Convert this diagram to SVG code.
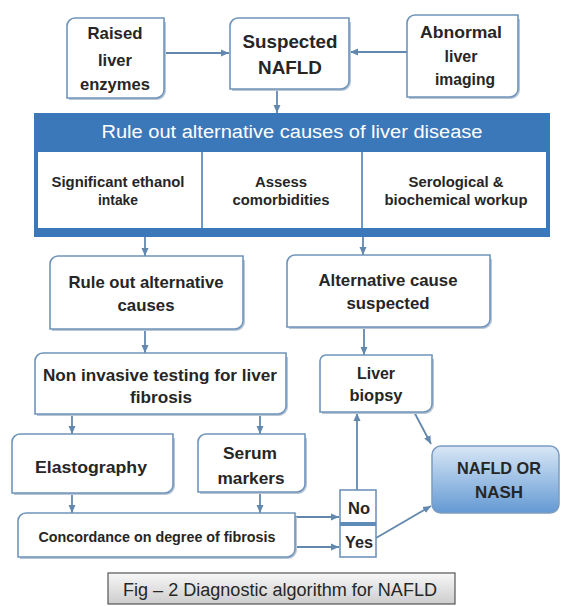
<svg xmlns="http://www.w3.org/2000/svg" width="563" height="606" viewBox="0 0 563 606">
<defs>
<style>
.box{fill:#fff;stroke:#6f94bb;stroke-width:1.6}
.sh{fill:none;stroke:#b9c6d4;stroke-width:2}
.t{font-family:"Liberation Sans",Arial,sans-serif;font-weight:bold;fill:#262626;text-anchor:middle}
.w{font-family:"Liberation Sans",Arial,sans-serif;font-weight:normal;fill:#fff;text-anchor:middle}
.c{fill:none;stroke:#6388ae;stroke-width:1.8}
</style>
<marker id="ah" markerUnits="userSpaceOnUse" markerWidth="9" markerHeight="8" refX="8" refY="4" orient="auto">
<path d="M0,0.5 L8,4 L0,7.5 Z" fill="#6388ae"/>
</marker>
<linearGradient id="gN" x1="0" y1="0" x2="0" y2="1">
<stop offset="0" stop-color="#d8e7f6"/>
<stop offset="1" stop-color="#6399d3"/>
</linearGradient>
<linearGradient id="gC" x1="0" y1="0" x2="0" y2="1">
<stop offset="0" stop-color="#f7f7f7"/>
<stop offset="1" stop-color="#cdcdcd"/>
</linearGradient>
</defs>
<rect width="563" height="606" fill="#fff"/>

<g id="connectors">
<line class="c" x1="164" y1="53" x2="229" y2="53" marker-end="url(#ah)"/>
<line class="c" x1="407" y1="52" x2="350" y2="52" marker-end="url(#ah)"/>
<line class="c" x1="277" y1="89" x2="277" y2="113" marker-end="url(#ah)"/>
<line class="c" x1="145" y1="237" x2="145" y2="256" marker-end="url(#ah)"/>
<line class="c" x1="363" y1="237" x2="363" y2="255" marker-end="url(#ah)"/>
<line class="c" x1="145" y1="329" x2="145" y2="353" marker-end="url(#ah)"/>
<line class="c" x1="364" y1="327" x2="364" y2="355" marker-end="url(#ah)"/>
<line class="c" x1="72" y1="414" x2="72" y2="434" marker-end="url(#ah)"/>
<line class="c" x1="260" y1="414" x2="260" y2="434" marker-end="url(#ah)"/>
<line class="c" x1="72" y1="493" x2="72" y2="513" marker-end="url(#ah)"/>
<line class="c" x1="260" y1="492" x2="260" y2="513" marker-end="url(#ah)"/>
<line class="c" x1="295" y1="517" x2="339" y2="517" marker-end="url(#ah)"/>
<line class="c" x1="295" y1="547" x2="339" y2="547" marker-end="url(#ah)"/>
<line class="c" x1="357" y1="490" x2="357" y2="413" marker-end="url(#ah)"/>
<line class="c" x1="412" y1="408" x2="431" y2="444" marker-end="url(#ah)"/>
<line class="c" x1="376" y1="538" x2="431" y2="506" marker-end="url(#ah)"/>
</g>

<g id="raised">
<path class="sh" d="M69,99 H157 A8,8 0 0 0 165,91 V22"/>
<path class="box" d="M67,26 A8,8 0 0 1 75,18 H164 V90 A8,8 0 0 1 156,98 H67 Z"/>
<text class="t" font-size="17" x="115" y="39" textLength="55" lengthAdjust="spacingAndGlyphs">Raised</text>
<text class="t" font-size="17" x="115" y="66" textLength="34" lengthAdjust="spacingAndGlyphs">liver</text>
<text class="t" font-size="17" x="115" y="90" textLength="70" lengthAdjust="spacingAndGlyphs">enzymes</text>
</g>

<g id="suspected">
<path class="sh" d="M232,90 H342 A8,8 0 0 0 350,82 V22"/>
<path class="box" d="M230,26 A8,8 0 0 1 238,18 H349 V81 A8,8 0 0 1 341,89 H230 Z"/>
<text class="t" font-size="18" x="290" y="48" textLength="95" lengthAdjust="spacingAndGlyphs">Suspected</text>
<text class="t" font-size="18" x="290" y="74" textLength="64" lengthAdjust="spacingAndGlyphs">NAFLD</text>
</g>

<g id="abnormal">
<path class="sh" d="M409,98 H511 A8,8 0 0 0 519,90 V19"/>
<path class="box" d="M407,23 A8,8 0 0 1 415,15 H518 V89 A8,8 0 0 1 510,97 H407 Z"/>
<text class="t" font-size="17" x="461" y="38" textLength="82" lengthAdjust="spacingAndGlyphs">Abnormal</text>
<text class="t" font-size="17" x="461" y="62" textLength="33" lengthAdjust="spacingAndGlyphs">liver</text>
<text class="t" font-size="17" x="465" y="85" textLength="60" lengthAdjust="spacingAndGlyphs">imaging</text>
</g>

<g id="banner">
<rect x="34" y="113" width="516" height="124" fill="#3b78b9"/>
<rect x="38" y="152" width="508" height="76" fill="#fff"/>
<line x1="202" y1="152" x2="202" y2="228" stroke="#3b78b9" stroke-width="1.5"/>
<line x1="362" y1="152" x2="362" y2="228" stroke="#3b78b9" stroke-width="1.5"/>
<text class="w" font-size="18" x="292" y="138" textLength="381" lengthAdjust="spacingAndGlyphs">Rule out alternative causes of liver disease</text>
<text class="t" font-size="14" x="118" y="187" textLength="133" lengthAdjust="spacingAndGlyphs">Significant ethanol</text>
<text class="t" font-size="14" x="118" y="205" textLength="40" lengthAdjust="spacingAndGlyphs">intake</text>
<text class="t" font-size="14" x="281" y="187" textLength="52" lengthAdjust="spacingAndGlyphs">Assess</text>
<text class="t" font-size="14" x="281" y="205" textLength="97" lengthAdjust="spacingAndGlyphs">comorbidities</text>
<text class="t" font-size="14" x="456" y="187" textLength="95" lengthAdjust="spacingAndGlyphs">Serological &amp;</text>
<text class="t" font-size="14" x="456" y="205" textLength="143" lengthAdjust="spacingAndGlyphs">biochemical workup</text>
</g>

<g id="ruleout">
<path class="sh" d="M52,330 H236 A8,8 0 0 0 244,322 V260"/>
<path class="box" d="M50,264 A8,8 0 0 1 58,256 H243 V321 A8,8 0 0 1 235,329 H50 Z"/>
<text class="t" font-size="17" x="146" y="288" textLength="155" lengthAdjust="spacingAndGlyphs">Rule out alternative</text>
<text class="t" font-size="17" x="146" y="311" textLength="57" lengthAdjust="spacingAndGlyphs">causes</text>
</g>

<g id="altcause">
<path class="sh" d="M289,328 H483 A8,8 0 0 0 491,320 V259"/>
<path class="box" d="M287,263 A8,8 0 0 1 295,255 H490 V319 A8,8 0 0 1 482,327 H287 Z"/>
<text class="t" font-size="17" x="388" y="286" textLength="139" lengthAdjust="spacingAndGlyphs">Alternative cause</text>
<text class="t" font-size="17" x="388" y="309" textLength="83" lengthAdjust="spacingAndGlyphs">suspected</text>
</g>

<g id="noninvasive">
<path class="sh" d="M37,415 H279 A8,8 0 0 0 287,407 V357"/>
<path class="box" d="M35,361 A8,8 0 0 1 43,353 H286 V406 A8,8 0 0 1 278,414 H35 Z"/>
<text class="t" font-size="17" x="160" y="381" textLength="234" lengthAdjust="spacingAndGlyphs">Non invasive testing for liver</text>
<text class="t" font-size="17" x="161" y="403" textLength="62" lengthAdjust="spacingAndGlyphs">fibrosis</text>
</g>

<g id="biopsy">
<path class="sh" d="M322,413 H425 A8,8 0 0 0 433,405 V359"/>
<path class="box" d="M320,361 A6,6 0 0 1 326,355 H432 V404 A8,8 0 0 1 424,412 H320 Z"/>
<text class="t" font-size="17" x="376" y="379" textLength="38" lengthAdjust="spacingAndGlyphs">Liver</text>
<text class="t" font-size="17" x="376" y="401" textLength="53" lengthAdjust="spacingAndGlyphs">biopsy</text>
</g>

<g id="elastography">
<path class="sh" d="M14,494 H166 A8,8 0 0 0 174,486 V438"/>
<path class="box" d="M12,442 A8,8 0 0 1 20,434 H173 V485 A8,8 0 0 1 165,493 H12 Z"/>
<text class="t" font-size="17" x="91" y="473" textLength="112" lengthAdjust="spacingAndGlyphs">Elastography</text>
</g>

<g id="serum">
<path class="sh" d="M200,493 H298 A8,8 0 0 0 306,485 V438"/>
<path class="box" d="M198,442 A8,8 0 0 1 206,434 H305 V484 A8,8 0 0 1 297,492 H198 Z"/>
<text class="t" font-size="17" x="250" y="459" textLength="54" lengthAdjust="spacingAndGlyphs">Serum</text>
<text class="t" font-size="17" x="251" y="484" textLength="67" lengthAdjust="spacingAndGlyphs">markers</text>
</g>

<g id="concordance">
<path class="sh" d="M20,558 H288 A8,8 0 0 0 296,550 V517"/>
<path class="box" d="M18,521 A8,8 0 0 1 26,513 H295 V549 A8,8 0 0 1 287,557 H18 Z"/>
<text class="t" font-size="15" x="157" y="542" textLength="237" lengthAdjust="spacingAndGlyphs">Concordance on degree of fibrosis</text>
</g>

<g id="no">
<rect class="box" x="340" y="490" width="36" height="34"/>
<text class="t" font-size="16" x="359" y="514" textLength="22" lengthAdjust="spacingAndGlyphs">No</text>
</g>

<g id="yes">
<rect class="box" x="340" y="525" width="36" height="32"/>
<rect x="340" y="522" width="36" height="4" fill="#5f8bb9"/>
<text class="t" font-size="16" x="359" y="548" textLength="28" lengthAdjust="spacingAndGlyphs">Yes</text>
</g>

<g id="nafld">
<rect x="432" y="446" width="127" height="67" rx="9" fill="url(#gN)" stroke="#7c9cc0" stroke-width="1.5"/>
<text class="t" font-size="17" x="499" y="474" textLength="84" lengthAdjust="spacingAndGlyphs">NAFLD OR</text>
<text class="t" font-size="17" x="499" y="498" textLength="48" lengthAdjust="spacingAndGlyphs">NASH</text>
</g>

<g id="caption">
<rect x="108" y="573" width="347" height="31" fill="url(#gC)" stroke="#555" stroke-width="1.2"/>
<text font-family="'Liberation Sans',Arial,sans-serif" font-size="18" fill="#262626" text-anchor="middle" x="280" y="596" textLength="314" lengthAdjust="spacingAndGlyphs">Fig – 2 Diagnostic algorithm for NAFLD</text>
</g>
</svg>
